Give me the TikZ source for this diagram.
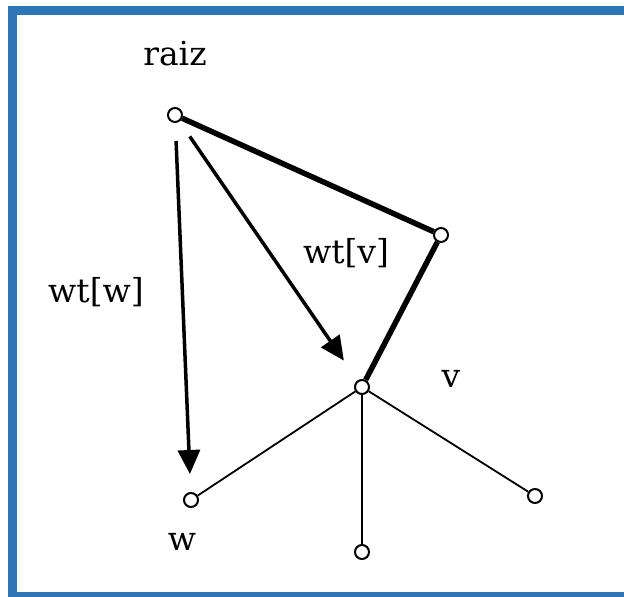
\documentclass[tikz,border=0pt]{standalone}
\usepackage{xcolor}
\usepackage{fontspec}
\usepackage{tikz}
\usetikzlibrary{arrows.meta}
\newfontfamily\labfont{DejaVu Serif}
\definecolor{frameblue}{HTML}{2E75B6}
\tikzset{
  vert/.style={circle, draw, fill=white, line width=2pt, inner sep=0pt, minimum size=14pt},
  heavy/.style={line width=5.5pt},
  light/.style={line width=1.8pt},
  wtarrow/.style={line width=3.5pt, -{Triangle[length=24pt,width=22pt]}},
  lab/.style={font=\labfont\fontsize{33}{38}\selectfont, inner sep=0pt}
}

\begin{document}
\begin{tikzpicture}[x=1pt,y=-1pt]
\useasboundingbox (0,0) rectangle (624,597);
\begin{scope}
\clip (0,0) rectangle (624,597);
\draw[frameblue, line width=9pt] (12.5,10.5) rectangle (640,596);
\end{scope}
% vertices
\node[vert] (raiz) at (175,115) {};
\node[vert] (top) at (441,235) {};
\node[vert] (v) at (362,387) {};
\node[vert] (w) at (191,500) {};
\node[vert] (bot) at (362,552) {};
\node[vert] (right) at (535,496) {};
% labels
\node[lab] (lraiz) at (175,54) {raiz};
\node[lab] (lwtw) at (96,292) {wt[w]};
\node[lab] (lwtv) at (346,253) {wt[v]};
\node[lab] (lv) at (451,379) {v};
\node[lab] (lw) at (182,542) {w};
% tree path
\draw[heavy] (raiz) -- (top);
\draw[heavy] (top) -- (v);
\draw[light] (v) -- (w);
\draw[light] (v) -- (bot);
\draw[light] (v) -- (right);
% weights
\draw[wtarrow, shorten <=18pt, shorten >=18pt] (raiz) -- (w);
\draw[wtarrow, shorten <=18pt, shorten >=24pt] (raiz) -- (v);
\end{tikzpicture}
\end{document}
